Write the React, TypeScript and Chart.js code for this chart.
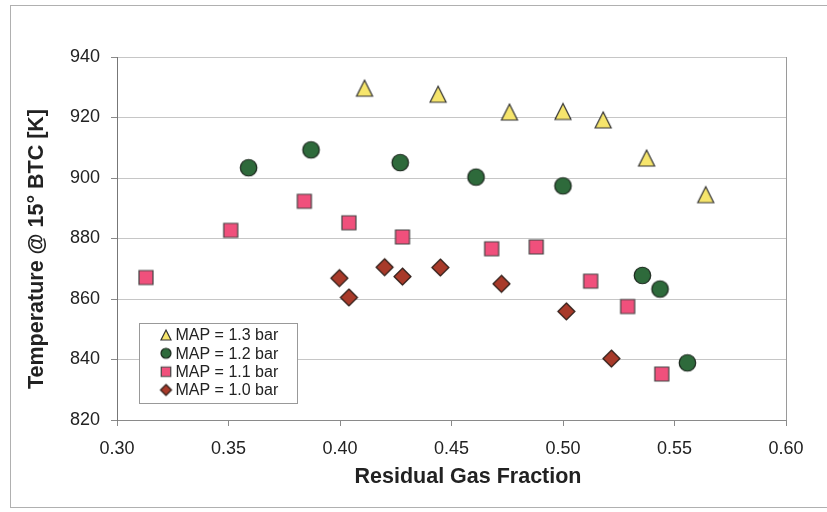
import React, { useEffect, useRef } from 'react';
import { Chart, registerables } from 'chart.js';

Chart.register(...registerables);

// ---- data ----
const xTickValues = [0.3, 0.35, 0.4, 0.45, 0.5, 0.55, 0.6];
const yTickValues = [820, 840, 860, 880, 900, 920, 940];
const seriesLabels = ['MAP = 1.3 bar', 'MAP = 1.2 bar', 'MAP = 1.1 bar', 'MAP = 1.0 bar'];

const map13X = [0.411, 0.444, 0.476, 0.5, 0.518, 0.5375, 0.564];
const map13Y = [929.7, 927.7, 921.8, 922.0, 919.2, 906.6, 894.5];

const map12X = [0.359, 0.387, 0.427, 0.461, 0.5, 0.5356, 0.5435, 0.5558];
const map12Y = [903.4, 909.3, 905.1, 900.3, 897.4, 867.8, 863.3, 838.9];

const map11X = [0.313, 0.351, 0.384, 0.404, 0.428, 0.468, 0.488, 0.5124, 0.529, 0.5443];
const map11Y = [867.1, 882.7, 892.3, 885.2, 880.5, 876.6, 877.2, 865.9, 857.5, 835.2];

const map10X = [0.3997, 0.404, 0.42, 0.428, 0.445, 0.4724, 0.5015, 0.5217];
const map10Y = [866.9, 860.5, 870.5, 867.4, 870.4, 865.0, 855.9, 840.3];

const FONT = '"Liberation Sans", Arial, Helvetica, sans-serif';
const TEXT = '#222222';

type Kind = 'triangle' | 'circle' | 'square' | 'diamond';

const styles: { kind: Kind; fill: string; stroke: string; size: number; lsize: number }[] = [
  { kind: 'triangle', fill: '#F6E56C', stroke: '#333333', size: 16, lsize: 10 },
  { kind: 'circle', fill: '#2E6A3B', stroke: '#1A261C', size: 16.5, lsize: 10 },
  { kind: 'square', fill: '#F0507C', stroke: '#444444', size: 14, lsize: 9.5 },
  { kind: 'diamond', fill: '#A83A2A', stroke: '#2A1A15', size: 17, lsize: 11 },
];

function makeMarker(kind: Kind, size: number, fill: string, stroke: string): HTMLCanvasElement {
  const pad = 2;
  const c = document.createElement('canvas');
  c.width = Math.ceil(size + pad * 2);
  c.height = Math.ceil(size + pad * 2);
  const ctx = c.getContext('2d')!;
  const o = (c.width - size) / 2;
  const s = size;
  ctx.fillStyle = fill;
  ctx.strokeStyle = stroke;
  ctx.lineWidth = 1.2;
  ctx.lineJoin = 'miter';
  ctx.beginPath();
  if (kind === 'triangle') {
    ctx.moveTo(o + s / 2, o);
    ctx.lineTo(o + s, o + s);
    ctx.lineTo(o, o + s);
    ctx.closePath();
  } else if (kind === 'circle') {
    ctx.arc(o + s / 2, o + s / 2, s / 2, 0, Math.PI * 2);
  } else if (kind === 'square') {
    ctx.rect(o, o, s, s);
  } else {
    ctx.moveTo(o + s / 2, o);
    ctx.lineTo(o + s, o + s / 2);
    ctx.lineTo(o + s / 2, o + s);
    ctx.lineTo(o, o + s / 2);
    ctx.closePath();
  }
  ctx.fill();
  ctx.stroke();
  return c;
}

export default function App() {
  const ref = useRef<HTMLCanvasElement | null>(null);

  useEffect(() => {
    const canvas = ref.current;
    if (!canvas) return;

    const markers = styles.map((s) => makeMarker(s.kind, s.size, s.fill, s.stroke));
    const legendMarkers = styles.map((s) => makeMarker(s.kind, s.lsize, s.fill, s.stroke));

    const xs = [map13X, map12X, map11X, map10X];
    const ys = [map13Y, map12Y, map11Y, map10Y];

    const decor = {
      id: 'decor',
      beforeDatasetsDraw(chart: any) {
        const { ctx, chartArea } = chart;
        ctx.save();
        ctx.strokeStyle = '#9a9a9a';
        ctx.lineWidth = 1;
        ctx.beginPath();
        ctx.moveTo(Math.round(chartArea.right) + 0.5, chartArea.top);
        ctx.lineTo(Math.round(chartArea.right) + 0.5, chartArea.bottom);
        ctx.stroke();
        ctx.restore();
      },
      afterDraw(chart: any) {
        const { ctx } = chart;
        ctx.save();
        // outer frame
        ctx.strokeStyle = '#b0b0b0';
        ctx.lineWidth = 1;
        ctx.strokeRect(10.5, 5.5, 830, 502);

        // axis titles
        ctx.fillStyle = TEXT;
        ctx.font = `bold 21.5px ${FONT}`;
        ctx.textAlign = 'center';
        ctx.textBaseline = 'middle';
        ctx.fillText('Residual Gas Fraction', 468, 477);
        ctx.save();
        ctx.translate(37, 249);
        ctx.rotate(-Math.PI / 2);
        ctx.fillText('Temperature @ 15° BTC [K]', 0, 0);
        ctx.restore();

        // legend
        const lx = 139.5;
        const ly = 323.5;
        const lw = 158;
        const lh = 80;
        ctx.fillStyle = '#ffffff';
        ctx.fillRect(lx, ly, lw, lh);
        ctx.strokeStyle = '#999999';
        ctx.strokeRect(lx, ly, lw, lh);
        ctx.font = `16px ${FONT}`;
        ctx.textAlign = 'left';
        ctx.textBaseline = 'middle';
        ctx.fillStyle = TEXT;
        const rowY = [335, 353.3, 371.7, 390];
        seriesLabels.forEach((label, i) => {
          const m = legendMarkers[i];
          ctx.drawImage(m, 166 - m.width / 2, rowY[i] - m.height / 2);
          ctx.fillText(label, 175.5, rowY[i] + 1);
        });
        ctx.restore();
      },
    };

    const chart = new Chart(canvas, {
      type: 'scatter',
      data: {
        datasets: seriesLabels.map((label, i) => ({
          label,
          data: xs[i].map((x, j) => ({ x, y: ys[i][j] })),
          pointStyle: markers[i] as any,
          pointRadius: 8,
          pointHoverRadius: 8,
          showLine: false,
        })),
      },
      options: {
        responsive: false,
        animation: false,
        events: [],
        layout: { padding: { left: 0, top: 57, right: 41, bottom: 0 } },
        plugins: {
          legend: { display: false },
          tooltip: { enabled: false },
        },
        scales: {
          x: {
            type: 'linear',
            min: 0.3,
            max: 0.6,
            afterBuildTicks(scale: any) {
              scale.ticks = xTickValues.map((v) => ({ value: v }));
            },
            afterFit(scale: any) {
              scale.height = 92;
            },
            ticks: {
              color: TEXT,
              font: { family: FONT, size: 18 },
              padding: 12,
              maxRotation: 0,
              callback: (v: any) => Number(v).toFixed(2),
            },
            grid: {
              drawOnChartArea: false,
              drawTicks: true,
              tickLength: 6,
              tickColor: '#8a8a8a',
              color: '#8a8a8a',
            },
            border: { display: true, color: '#8a8a8a', width: 1 },
          },
          y: {
            type: 'linear',
            min: 820,
            max: 940,
            afterBuildTicks(scale: any) {
              scale.ticks = yTickValues.map((v) => ({ value: v }));
            },
            afterFit(scale: any) {
              scale.width = 117;
            },
            ticks: {
              color: TEXT,
              font: { family: FONT, size: 18 },
              padding: 11,
              callback: (v: any) => String(v),
            },
            grid: {
              drawOnChartArea: true,
              drawTicks: true,
              tickLength: 6,
              tickColor: '#8a8a8a',
              color: '#c6c6c6',
            },
            border: { display: true, color: '#777777', width: 1 },
          },
        },
      },
      plugins: [decor],
    });

    return () => {
      chart.destroy();
    };
  }, []);

  return (
    <div style={{ position: 'absolute', left: 0, top: 0, width: 827, height: 512, background: '#ffffff' }}>
      <canvas ref={ref} width={827} height={512} style={{ display: 'block', width: 827, height: 512 }} />
    </div>
  );
}
